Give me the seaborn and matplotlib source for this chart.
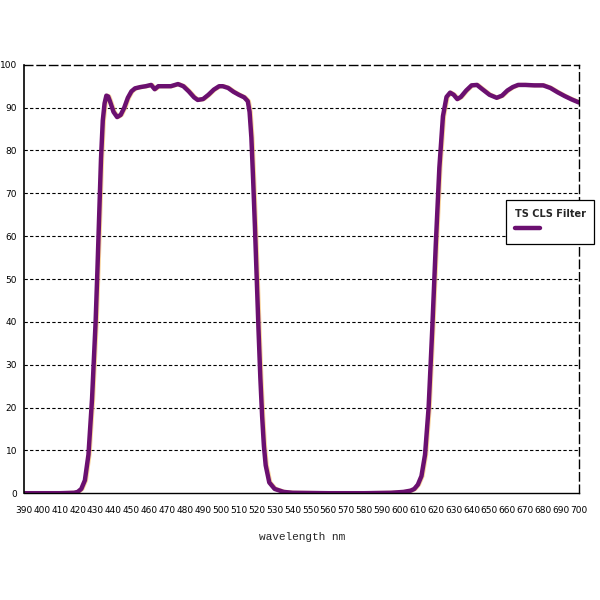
import matplotlib
import numpy as np
import pandas as pd
import seaborn as sns

matplotlib.use("Agg")
import matplotlib.pyplot as plt
from matplotlib.lines import Line2D

# transmission curve
wavelength = [390, 400, 410, 418, 420, 422, 424, 426, 428, 430, 431, 432, 433, 434, 435,
              436, 437, 438, 440, 442, 444, 446, 448, 450, 452, 455, 458, 461, 463, 465,
              468, 472, 476, 479, 482, 485, 487, 490, 493, 496, 499, 501, 504, 507, 510,
              513, 515, 516, 517, 518, 519, 520, 521, 522, 523, 524, 525, 527, 530, 535,
              540, 560, 580, 595, 602, 606, 608, 610, 612, 614, 616, 618, 620, 622, 624,
              626, 628, 630, 632, 634, 637, 640, 643, 646, 650, 654, 657, 660, 663, 666,
              670, 675, 680, 684, 688, 692, 696, 700]
transmission = [0, 0, 0, 0.1, 0.3, 1, 3, 9, 22, 40, 52, 65, 78, 87, 91,
                92.8, 92.6, 91.5, 89, 87.8, 88.3, 90, 92.3, 93.8, 94.5, 94.8, 95, 95.3, 94.3, 95,
                95, 95, 95.5, 95, 93.8, 92.4, 91.8, 92, 93, 94.2, 95, 95, 94.6, 93.7, 93,
                92.4, 91.5, 89, 83, 73, 62, 50, 38, 27, 18, 11, 6.5, 2.5, 1, 0.3,
                0.1, 0, 0, 0.1, 0.3, 0.6, 1, 2, 4, 9, 20, 38, 58, 76, 88,
                92.5, 93.5, 93, 92, 92.5, 94, 95.2, 95.3, 94.3, 93, 92.3, 92.8, 94, 94.8, 95.3,
                95.3, 95.2, 95.2, 94.6, 93.6, 92.7, 91.9, 91.2]

df = pd.DataFrame({"wavelength": wavelength, "transmission": transmission})
shadow = df.assign(wavelength=df["wavelength"] + 0.6)

sns.set_style("white")
plt.rcParams["font.family"] = ["DejaVu Sans"]

fig = plt.figure(figsize=(6, 6), dpi=100)
ax = fig.add_axes([0.04, 0.178, 0.925, 0.714])

purple = "#6b1070"
sns.lineplot(data=shadow, x="wavelength", y="transmission", ax=ax,
             color="#f7c070", linewidth=3.0, alpha=0.7)
sns.lineplot(data=df, x="wavelength", y="transmission", ax=ax,
             color=purple, linewidth=3.2)

ax.set_xlim(390, 700)
ax.set_ylim(0, 100)
ax.set_xticks(np.arange(390, 701, 10))
ax.set_yticks(np.arange(0, 101, 10))
ax.tick_params(axis="both", direction="inout", length=6, width=0.8,
               labelsize=6.5, colors="black")
ax.tick_params(axis="x", pad=6)
ax.tick_params(axis="y", pad=2)

for y in range(10, 100, 10):
    ax.axhline(y, color="black", linestyle=(0, (3, 2)), linewidth=0.8, zorder=0)

ax.spines["left"].set_color("black")
ax.spines["left"].set_linewidth(1.2)
ax.spines["bottom"].set_color("black")
ax.spines["bottom"].set_linewidth(1.0)
for side in ["top", "right"]:
    ax.spines[side].set_color("black")
    ax.spines[side].set_linewidth(1.0)
    ax.spines[side].set_linestyle((0, (6, 3)))

ax.set_xlabel("")
ax.set_ylabel("")
fig.text(0.503, 0.105, "wavelength nm", ha="center", va="center",
         fontsize=8, family="Liberation Mono")

handle = Line2D([], [], color=purple, linewidth=3.2)
leg = fig.legend([handle], [""], title="TS CLS Filter",
                 loc="center", bbox_to_anchor=(0.917, 0.63),
                 frameon=True, fancybox=False, framealpha=1.0, handlelength=1.8,
                 title_fontproperties={"weight": "bold", "size": 7},
                 borderpad=0.6, labelspacing=0.2, handletextpad=0.2)
leg.get_frame().set_edgecolor("black")
leg.get_frame().set_facecolor("white")
leg.get_frame().set_linewidth(0.9)
leg._legend_box.align = "left"

fig.savefig("out.png", dpi=100)
